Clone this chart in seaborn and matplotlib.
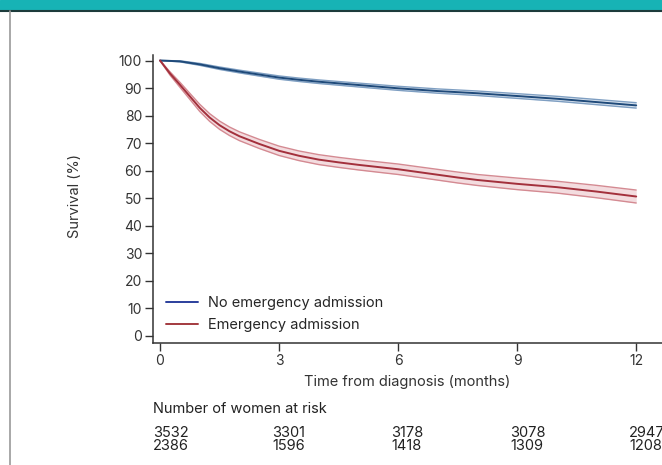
import numpy as np
import pandas as pd
import matplotlib
matplotlib.use("Agg")
import matplotlib.pyplot as plt
import seaborn as sns
from matplotlib.patches import Rectangle
from matplotlib.lines import Line2D

# survival estimates (months, %)
months_no = [0, 0.5, 1, 1.5, 2, 2.5, 3, 3.5, 4, 4.5, 5, 5.5, 6, 6.5, 7, 7.5, 8,
             8.5, 9, 9.5, 10, 10.5, 11, 11.5, 12]
surv_no = [100, 99.7, 98.6, 97.2, 96.0, 94.9, 93.8, 93.0, 92.3, 91.7, 91.1, 90.5,
           89.9, 89.4, 88.9, 88.5, 88.1, 87.6, 87.1, 86.6, 86.1, 85.5, 84.9, 84.3, 83.7]
ci_no = [0, 0.2, 0.35, 0.45, 0.5, 0.55, 0.6, 0.62, 0.65, 0.67, 0.7, 0.72, 0.74,
         0.76, 0.78, 0.8, 0.82, 0.84, 0.86, 0.88, 0.9, 0.92, 0.94, 0.96, 0.98]

months_em = [0, 0.25, 0.5, 0.75, 1, 1.25, 1.5, 1.75, 2, 2.5, 3, 3.5, 4, 4.5, 5, 5.5,
             6, 6.5, 7, 7.5, 8, 8.5, 9, 9.5, 10, 10.5, 11, 11.5, 12]
surv_em = [100, 95.3, 91.2, 87.0, 82.8, 79.3, 76.5, 74.3, 72.5, 69.7, 67.2, 65.4,
           64.0, 63.0, 62.1, 61.3, 60.5, 59.5, 58.5, 57.5, 56.6, 55.9, 55.2, 54.6,
           54.0, 53.2, 52.4, 51.5, 50.6]
ci_em = [0, 0.6, 0.9, 1.1, 1.3, 1.4, 1.5, 1.55, 1.6, 1.65, 1.7, 1.75, 1.8, 1.82,
         1.85, 1.88, 1.9, 1.92, 1.95, 1.98, 2.0, 2.05, 2.1, 2.12, 2.15, 2.2, 2.25,
         2.3, 2.35]

labels = ["No emergency admission", "Emergency admission"]
risk_months = [0, 3, 6, 9, 12]
risk_no = ["3532", "3301", "3178", "3078", "2947"]
risk_em = ["2386", "1596", "1418", "1309", "1208"]

line_cols = ["#1f4a7a", "#a3303c"]
band_cols = ["#7f9fc2", "#d48a92"]
fill_cols = ["#dbe5f0", "#f3dcdf"]
legend_cols = ["#2b3f9c", "#a33a3f"]

sns.set_style("ticks")
plt.rcParams["font.family"] = ["Inter", "DejaVu Sans"]

df = pd.concat([
    pd.DataFrame({"month": months_no, "surv": surv_no, "group": labels[0]}),
    pd.DataFrame({"month": months_em, "surv": surv_em, "group": labels[1]}),
])

fig = plt.figure(figsize=(6.62, 4.65), dpi=100)
ax = fig.add_axes([153.3 / 662, 1 - 342.7 / 465, 1 - 153.3 / 662, (342.7 - 55) / 465])

for i, (m, s, c) in enumerate([(months_no, surv_no, ci_no), (months_em, surv_em, ci_em)]):
    m = np.array(m); s = np.array(s); c = np.array(c)
    ax.fill_between(m, s - c, s + c, color=fill_cols[i], lw=0, zorder=1)
    ax.plot(m, s - c, color=band_cols[i], lw=1.0, zorder=2)
    ax.plot(m, s + c, color=band_cols[i], lw=1.0, zorder=2)

sns.lineplot(data=df, x="month", y="surv", hue="group", palette=line_cols,
             linewidth=1.4, ax=ax, legend=False, zorder=3, estimator=None)

ax.set_xlim(-0.17, 12.65)
ax.set_ylim(-2.5, 102)
ax.set_xticks([0, 3, 6, 9, 12])
ax.set_yticks(range(0, 101, 10))
ax.tick_params(axis="both", length=6, width=1, color="#333333",
               labelsize=10, labelcolor="#333333", pad=2)
for sp in ["left", "bottom"]:
    ax.spines[sp].set_color("#333333")
    ax.spines[sp].set_linewidth(1.1)
sns.despine(ax=ax)
ax.set_xlabel("Time from diagnosis (months)", fontsize=10.5, color="#333333", labelpad=5)
ax.set_ylabel("")
fig.text(75 / 662, 1 - 196 / 465, "Survival (%)", rotation=90, fontsize=10.5,
         color="#333333", ha="center", va="center")

handles = [Line2D([], [], color=legend_cols[0], lw=1.4),
           Line2D([], [], color=legend_cols[1], lw=1.4)]
ax.legend(handles, labels, loc="lower left", bbox_to_anchor=(0.004, 0.0),
          frameon=False, fontsize=10.5, handlelength=2.2, handletextpad=0.7,
          labelspacing=0.55, borderaxespad=0.3)

# number at risk table
fig.text(153 / 662, 1 - 409 / 465, "Number of women at risk", fontsize=10.5,
         color="#222222", va="center")
for k, mth in enumerate(risk_months):
    xpix = 160 + mth * 39.67 - 7
    fig.text(xpix / 662, 1 - 433 / 465, risk_no[k], fontsize=10.5,
             color="#222222", va="center")
    fig.text(xpix / 662, 1 - 446 / 465, risk_em[k], fontsize=10.5,
             color="#222222", va="center")

# banner and page border
fig.patches.append(Rectangle((0, 1 - 10 / 465), 1, 10 / 465, transform=fig.transFigure,
                             color="#17b3b5", zorder=0))
fig.lines.append(Line2D([0, 1], [1 - 11 / 465] * 2, transform=fig.transFigure,
                        color="#1d3b3b", lw=1.5))
fig.lines.append(Line2D([10 / 662] * 2, [0, 1 - 11 / 465], transform=fig.transFigure,
                        color="#9a9a9a", lw=1.2))

fig.savefig("out.png", dpi=100)
